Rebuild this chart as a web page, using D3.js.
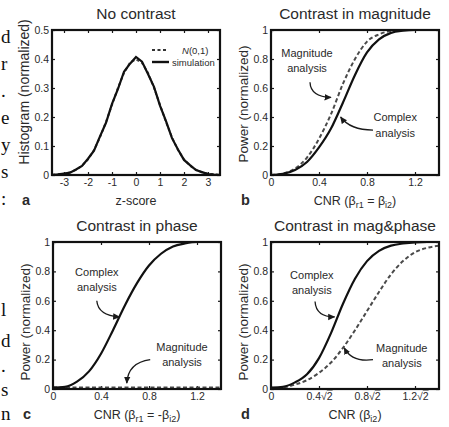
<!DOCTYPE html>
<html>
<head>
<meta charset="utf-8">
<script src="https://cdn.jsdelivr.net/npm/d3@7"></script>
<style>
body { margin: 0; background: #fff; }
text { font-family: "Liberation Sans", Arial, sans-serif; fill: #2a2a2a; }
</style>
</head>
<body>
<svg id="fig" width="449" height="427"></svg>
<script>
// panel a : histogram of z-scores vs N(0,1)
var zScore = [-3.5, -3.25, -3, -2.75, -2.5, -2.25, -2, -1.75, -1.5, -1.25, -1, -0.75, -0.5, -0.25, 0,
              0.25, 0.5, 0.75, 1, 1.25, 1.5, 1.75, 2, 2.25, 2.5, 2.75, 3, 3.25, 3.5];
var normalCurve = [0.001, 0.002, 0.004, 0.009, 0.018, 0.032, 0.054, 0.086, 0.130, 0.183, 0.242, 0.301, 0.352, 0.387, 0.399,
                   0.387, 0.352, 0.301, 0.242, 0.183, 0.130, 0.086, 0.054, 0.032, 0.018, 0.009, 0.004, 0.002, 0.001];
var simulation = [0.000, 0.002, 0.005, 0.008, 0.019, 0.031, 0.056, 0.084, 0.133, 0.180, 0.245, 0.297, 0.356, 0.384, 0.407,
                  0.391, 0.348, 0.304, 0.239, 0.186, 0.127, 0.088, 0.052, 0.034, 0.017, 0.010, 0.003, 0.001, 0.000];

// panels b-d : power vs CNR (panel d in units of sqrt(2))
var cnr = [0, 0.1, 0.2, 0.3, 0.4, 0.5, 0.6, 0.7, 0.8, 0.9, 1.0, 1.1, 1.2, 1.3, 1.4];
var magComplex   = [0.000, 0.008, 0.035, 0.090, 0.190, 0.320, 0.500, 0.690, 0.845, 0.935, 0.980, 0.995, 1.000, 1.000, 1.000];
var magMagnitude = [0.000, 0.010, 0.045, 0.120, 0.250, 0.420, 0.630, 0.800, 0.920, 0.970, 0.993, 1.000, 1.000, 1.000, 1.000];
var phaseComplex   = [0.010, 0.015, 0.050, 0.120, 0.240, 0.400, 0.570, 0.720, 0.840, 0.920, 0.970, 0.990, 1.000, 1.000, 1.000];
var phaseMagnitude = [0.010, 0.010, 0.010, 0.010, 0.010, 0.010, 0.010, 0.010, 0.010, 0.010, 0.010, 0.010, 0.010, 0.010, 0.010];
var bothComplex   = [0.010, 0.015, 0.045, 0.100, 0.210, 0.380, 0.580, 0.750, 0.870, 0.940, 0.975, 0.990, 0.998, 1.000, 1.000];
var bothMagnitude = [0.000, 0.010, 0.030, 0.060, 0.110, 0.180, 0.280, 0.400, 0.530, 0.660, 0.780, 0.870, 0.930, 0.960, 0.975];

// tick values and labels
var zTicks = [-3, -2, -1, 0, 1, 2, 3];
var histTicks = [0, 0.1, 0.2, 0.3, 0.4, 0.5];
var histTickLabels = ["0", "0.1", "0.2", "0.3", "0.4", "0.5"];
var cnrTicks = [0, 0.4, 0.8, 1.2];
var cnrTickLabels = ["0", "0.4", "0.8", "1.2"];
var powerTicks = [0, 0.2, 0.4, 0.6, 0.8, 1];
var powerTickLabels = ["0", "0.2", "0.4", "0.6", "0.8", "1"];

// text of the neighbouring page column, left edge
var marginTop = ["d", "r", ".", "e", "y", "s", ":"];
var marginBottom = ["l", "d", ".", "s", "n"];

var svg = d3.select("#fig");

svg.append("defs").append("marker")
    .attr("id", "head")
    .attr("viewBox", "0 0 10 10")
    .attr("refX", 9).attr("refY", 5)
    .attr("markerWidth", 5.5).attr("markerHeight", 5.5)
    .attr("orient", "auto")
  .append("path")
    .attr("d", "M0,0.5L10,5L0,9.5Z")
    .attr("fill", "#1a1a1a");

svg.append("g").selectAll("text").data(marginTop).join("text")
    .attr("x", 1)
    .attr("y", function(d, i) { return 43 + i * 27; })
    .style("font-family", "'Liberation Serif', serif")
    .style("font-size", "19px")
    .style("fill", "#111")
    .text(function(d) { return d; });
svg.append("g").selectAll("text").data(marginBottom).join("text")
    .attr("x", 1)
    .attr("y", function(d, i) { return [316, 347, 372, 396, 420][i]; })
    .style("font-family", "'Liberation Serif', serif")
    .style("font-size", "19px")
    .style("fill", "#111")
    .text(function(d) { return d; });

var panels = [
  {
    letter: "a", title: "No contrast",
    left: 52, right: 220, top: 30, bottom: 175,
    xDomain: [-3.5, 3.5], yDomain: [0, 0.5],
    xTicks: zTicks, xLabels: zTicks.map(String),
    yTicks: histTicks, yLabels: histTickLabels,
    xTitle: [["z-score"]], yTitle: "Histogram (normalized)", yTitleSize: 14, yTitleMid: 92,
    series: [
      {x: zScore, y: normalCurve, dash: "3,2.5"},
      {x: zScore, y: simulation, dash: null}
    ],
    legend: true,
    notes: []
  },
  {
    letter: "b", title: "Contrast in magnitude",
    left: 271, right: 439, top: 30, bottom: 175,
    xDomain: [0, 1.4], yDomain: [0, 1],
    xTicks: cnrTicks, xLabels: cnrTickLabels,
    yTicks: powerTicks, yLabels: powerTickLabels,
    xTitle: [["CNR (β"], ["r1", "sub"], [" = β"], ["i2", "sub"], [")"]],
    yTitle: "Power (normalized)", yTitleSize: 13.5, yTitleMid: 104,
    series: [
      {x: cnr, y: magMagnitude, dash: "4,2.5"},
      {x: cnr, y: magComplex, dash: null}
    ],
    notes: [
      {lines: ["Magnitude", "analysis"], at: [0.30, 0.815], from: [0.325, 0.64], ctrl: [0.33, 0.54], tip: [0.50, 0.535]},
      {lines: ["Complex", "analysis"], at: [1.035, 0.37], from: [0.85, 0.31], ctrl: [0.66, 0.31], tip: [0.58, 0.40]}
    ]
  },
  {
    letter: "c", title: "Contrast in phase",
    left: 53, right: 221, top: 242, bottom: 389,
    xDomain: [0, 1.4], yDomain: [0, 1],
    xTicks: cnrTicks, xLabels: cnrTickLabels,
    yTicks: powerTicks, yLabels: powerTickLabels,
    xTitle: [["CNR (β"], ["r1", "sub"], [" = -β"], ["i2", "sub"], [")"]],
    yTitle: "Power (normalized)", yTitleSize: 13.5, yTitleMid: 322,
    series: [
      {x: cnr, y: phaseMagnitude, dash: "4,2.5"},
      {x: cnr, y: phaseComplex, dash: null}
    ],
    notes: [
      {lines: ["Complex", "analysis"], at: [0.365, 0.77], from: [0.365, 0.60], ctrl: [0.375, 0.50], tip: [0.555, 0.49]},
      {lines: ["Magnitude", "analysis"], at: [1.075, 0.26], from: [0.81, 0.20], ctrl: [0.625, 0.18], tip: [0.615, 0.04]}
    ]
  },
  {
    letter: "d", title: "Contrast in mag&phase",
    left: 271, right: 439, top: 242, bottom: 389,
    xDomain: [0, 1.4], yDomain: [0, 1],
    xTicks: cnrTicks, xLabels: cnrTickLabels, xRoot: true,
    yTicks: powerTicks, yLabels: powerTickLabels,
    xTitle: [["CNR (β"], ["i2", "sub"], [")"]],
    yTitle: "Power (normalized)", yTitleSize: 13.5, yTitleMid: 322,
    series: [
      {x: cnr, y: bothMagnitude, dash: "4,2.5"},
      {x: cnr, y: bothComplex, dash: null}
    ],
    notes: [
      {lines: ["Complex", "analysis"], at: [0.34, 0.75], from: [0.367, 0.595], ctrl: [0.375, 0.49], tip: [0.53, 0.49]},
      {lines: ["Magnitude", "analysis"], at: [1.09, 0.255], from: [0.85, 0.20], ctrl: [0.675, 0.18], tip: [0.61, 0.28]}
    ]
  }
];

panels.forEach(drawPanel);

function drawPanel(p) {
  var g = svg.append("g");
  var x = d3.scaleLinear().domain(p.xDomain).range([p.left, p.right]);
  var y = d3.scaleLinear().domain(p.yDomain).range([p.bottom, p.top]);

  var bottomAxis = g.append("g")
      .attr("transform", "translate(0," + p.bottom + ")")
      .call(d3.axisBottom(x).tickValues(p.xTicks).tickSize(-3).tickPadding(4)
        .tickFormat(function(d, i) { return p.xLabels[i]; }));
  g.append("g")
      .attr("transform", "translate(0," + p.top + ")")
      .call(d3.axisTop(x).tickValues(p.xTicks).tickSize(-3).tickFormat(""));
  g.append("g")
      .attr("transform", "translate(" + p.left + ",0)")
      .call(d3.axisLeft(y).tickValues(p.yTicks).tickSize(-3).tickPadding(3)
        .tickFormat(function(d, i) { return p.yLabels[i]; }));
  g.append("g")
      .attr("transform", "translate(" + p.right + ",0)")
      .call(d3.axisRight(y).tickValues(p.yTicks).tickSize(-3).tickFormat(""));

  g.selectAll(".domain").remove();
  g.selectAll(".tick line").attr("stroke", "#1a1a1a").attr("stroke-width", 1.2);
  g.selectAll(".tick text")
      .attr("font-family", null).attr("font-size", null)
      .style("font-size", "10.5px")
      .attr("fill", null);

  if (p.xRoot) {
    // labels like 0.4√2 with a bar over the 2
    bottomAxis.selectAll(".tick text").each(function(d, i) {
      var t = d3.select(this);
      if (i === 0) return;
      t.text(p.xLabels[i]);
      t.append("tspan").text("√");
      t.append("tspan").style("text-decoration", "overline").text("2");
    });
  }

  var line = d3.line()
      .x(function(d) { return x(d[0]); })
      .y(function(d) { return y(d[1]); });

  p.series.forEach(function(s) {
    var pts = s.x.map(function(v, i) { return [v, s.y[i]]; });
    g.append("path")
        .attr("d", line.curve(p.letter === "a" ? d3.curveLinear : d3.curveMonotoneX)(pts))
        .attr("fill", "none")
        .attr("stroke", s.dash ? "#4a4a4a" : "#111")
        .attr("stroke-width", s.dash ? 2 : 2.2)
        .attr("stroke-dasharray", s.dash);
  });

  g.append("rect")
      .attr("x", p.left).attr("y", p.top)
      .attr("width", p.right - p.left).attr("height", p.bottom - p.top)
      .attr("fill", "none")
      .attr("stroke", "#111")
      .attr("stroke-width", 2.2);

  // annotations with curved arrows
  p.notes.forEach(function(n) {
    var txt = g.append("text")
        .attr("x", x(n.at[0]))
        .attr("y", y(n.at[1]))
        .attr("text-anchor", "middle")
        .style("font-size", "11px");
    n.lines.forEach(function(l, i) {
      txt.append("tspan").attr("x", x(n.at[0])).attr("dy", i ? 15.5 : 0).text(l);
    });
    var path = d3.path();
    path.moveTo(x(n.from[0]), y(n.from[1]));
    path.quadraticCurveTo(x(n.ctrl[0]), y(n.ctrl[1]), x(n.tip[0]), y(n.tip[1]));
    g.append("path")
        .attr("d", path.toString())
        .attr("fill", "none")
        .attr("stroke", "#1a1a1a")
        .attr("stroke-width", 1.3)
        .attr("marker-end", "url(#head)");
  });

  if (p.legend) {
    var lg = g.append("g");
    lg.append("line").attr("x1", 152).attr("x2", 168).attr("y1", 50).attr("y2", 50)
        .attr("stroke", "#333").attr("stroke-width", 2).attr("stroke-dasharray", "3,2.5");
    lg.append("line").attr("x1", 152).attr("x2", 169).attr("y1", 62).attr("y2", 62)
        .attr("stroke", "#111").attr("stroke-width", 2.4);
    var t1 = lg.append("text").attr("x", 182).attr("y", 53.5).style("font-size", "9.5px");
    t1.append("tspan").style("font-style", "italic").text("N");
    t1.append("tspan").text("(0,1)");
    lg.append("text").attr("x", 172).attr("y", 65.5).style("font-size", "9.5px").text("simulation");
  }

  var cx = (p.left + p.right) / 2;
  g.append("text")
      .attr("x", cx).attr("y", p.top - 11)
      .attr("text-anchor", "middle")
      .style("font-size", "15.5px")
      .text(p.title);

  var xt = g.append("text")
      .attr("x", cx).attr("y", p.bottom + 30)
      .attr("text-anchor", "middle")
      .style("font-size", "12.5px");
  p.xTitle.forEach(function(part) {
    var ts = xt.append("tspan").text(part[0]);
    if (part[1] === "sub") ts.attr("dy", 2.5).style("font-size", "9px");
    else if (xt.selectAll("tspan").size() > 1) ts.attr("dy", -2.5);
  });

  g.append("text")
      .attr("transform", "translate(" + (p.left - 23) + "," + p.yTitleMid + ") rotate(-90)")
      .attr("text-anchor", "middle")
      .style("font-size", p.yTitleSize + "px")
      .text(p.yTitle);

  g.append("text")
      .attr("x", p.left - 30).attr("y", p.bottom + 30)
      .style("font-size", "14.5px")
      .style("font-weight", "bold")
      .text(p.letter);
}
</script>
</body>
</html>
